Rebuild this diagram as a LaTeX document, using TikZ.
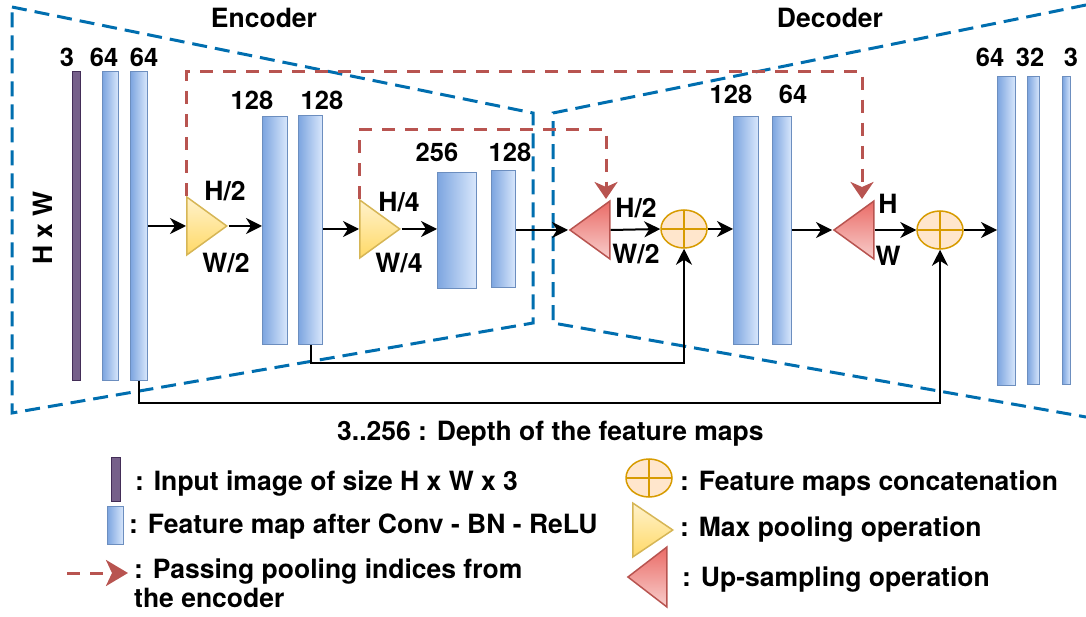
\documentclass[tikz,border=0pt]{standalone}
\usepackage{fontspec}
\setmainfont{TeX Gyre Heros}
\usetikzlibrary{arrows.meta,shapes.geometric}
\definecolor{zoneblue}{HTML}{006EAF}
\definecolor{idxred}{HTML}{B85450}
\definecolor{mapdark}{HTML}{7EA6E0}
\definecolor{maplight}{HTML}{DAE8FC}
\definecolor{mapline}{HTML}{6C8EBF}
\definecolor{inpfill}{HTML}{76608A}
\definecolor{inpline}{HTML}{432D57}
\definecolor{poollight}{HTML}{FFF2CC}
\definecolor{pooldark}{HTML}{FFD966}
\definecolor{poolline}{HTML}{D6B656}
\definecolor{updark}{HTML}{EA6B66}
\definecolor{uplight}{HTML}{F8CECC}
\definecolor{catfill}{HTML}{FFE6CC}
\definecolor{catline}{HTML}{D79B00}
\begin{document}
\begin{tikzpicture}[x=1pt,y=-1pt,
  font=\fontsize{26.5}{29}\selectfont\bfseries,
  fmap/.style={draw=mapline,line width=1.3pt,left color=mapdark,right color=maplight,inner sep=0pt,anchor=north west},
  inimg/.style={draw=inpline,line width=1.3pt,fill=inpfill,inner sep=0pt,anchor=north west},
  pool/.style={isosceles triangle,isosceles triangle stretches,draw=poolline,line width=1.5pt,top color=poollight,bottom color=pooldark,inner sep=0pt,minimum height=40pt,minimum width=58pt,anchor=west},
  upsmp/.style={pool,shape border rotate=180,draw=idxred,top color=updark,bottom color=uplight},
  concat/.style={ellipse,draw=catline,line width=1.5pt,fill=catfill,minimum width=46pt,minimum height=38pt,inner sep=0pt,
    path picture={\draw[catline,line width=1.5pt] (path picture bounding box.north) -- (path picture bounding box.south)
      (path picture bounding box.west) -- (path picture bounding box.east);}},
  arr/.style={-{Stealth[length=16pt,width=16pt,inset=5pt]},line width=2pt},
  idx/.style={-{Stealth[length=17pt,width=23pt,inset=5pt]},idxred,line width=3pt,dash pattern=on 13pt off 10pt},
  zone/.style={zoneblue,line width=3pt,dash pattern=on 15pt off 8pt},
  depth/.style={font=\fontsize{25.5}{29}\selectfont\bfseries},
  note/.style={anchor=base west,inner sep=0pt}]
  \useasboundingbox (0,0) rectangle (1086,617);
  \draw[zone] (12,7) -- (533,113) -- (533,323) -- (12,413) -- cycle;
  \draw[zone] (1086,5) -- (553,113) -- (553,323) -- (1086,417);
  \node (enc) at (264,18) {Encoder};
  \node (dec) at (830,18) {Decoder};
  \node[rotate=90] (hw) at (43,228) {H x W};
  \node[inimg,minimum width=8pt,minimum height=309pt] (in) at (72,71) {};
  \foreach \n/\xa/\xb/\ya/\yb in {e1/102/118/71/380,e2/130/147/71/380,e3/262/287/116/344,e4/298/322/115/344,
    e5/437/476/172/288,e6/491/515/170/287,d1/733/758/116/344,d2/772/791/116/344,
    d3/997/1015/76/385,d4/1027/1039/76/384,d5/1062/1070/76/384}{
    \node[fmap,minimum width=(\xb-\xa)*1pt,minimum height=(\yb-\ya)*1pt] (\n) at (\xa,\ya) {};
  }
  \foreach \lab/\x/\y [count=\i] in {3/67/57,64/104/57,64/144/57,128/252/100,128/322/100,256/437/152,
    128/510/152,128/731/94,64/793/94,64/990/57,32/1030/57,3/1071/57}{
    \node[depth] (num\i) at (\x,\y) {\lab};
  }
  \node[pool] (pool1) at (186,226) {};
  \node[pool] (pool2) at (359,229) {};
  \node[upsmp] (up1) at (568,230) {};
  \node[upsmp] (up2) at (832,230) {};
  \node[concat] (cat1) at (684,229) {};
  \node[concat] (cat2) at (940,230) {};
  \node (h1) at (225,191) {H/2};
  \node (w1) at (226,263) {W/2};
  \node (h2) at (399,202) {H/4};
  \node (w2) at (399,263) {W/4};
  \node (h3) at (636,208) {H/2};
  \node (w3) at (636,254) {W/2};
  \node (h4) at (888,204) {H};
  \node (w4) at (888,256) {W};
  \draw[arr] (e2.east |- pool1.west) -- (pool1.west);
  \draw[arr] (pool1.east) -- (pool1.east -| e3.west);
  \draw[arr] (e4.east |- pool2.west) -- (pool2.west);
  \draw[arr] (pool2.east) -- (pool2.east -| e5.west);
  \draw[arr] (e6.east |- up1.west) -- (up1.west);
  \draw[arr] (up1.east) -- (cat1.west);
  \draw[arr] (cat1.east) -- (cat1.east -| d1.west);
  \draw[arr] (d2.east |- up2.west) -- (up2.west);
  \draw[arr] (up2.east) -- (cat2.west);
  \draw[arr] (cat2.east) -- (cat2.east -| d3.west);
  \draw[arr] (e4.south) -- ++(0,18) -| (cat1.south);
  \draw[arr] (e2.south) -- ++(0,22) -| (cat2.south);
  \coordinate (tip1) at (606,199);
  \coordinate (tip2) at (862,199);
  \draw[idx] (pool2.left corner) -- ++(0,-69) -| (tip1);
  \draw[idx] (pool1.left corner) -- ++(0,-124) -| (tip2);
  \node[note] (t0) at (337,440) {3..256 : Depth of the feature maps};
  \node[inimg,minimum width=9pt,minimum height=44pt] (lgin) at (111,457) {};
  \node[fmap,minimum width=16pt,minimum height=38pt] (lgmap) at (107,506) {};
  \coordinate (lga) at (67,573);
  \coordinate (lgb) at (128,573);
  \draw[idx,-{Stealth[length=22pt,width=26pt,inset=6pt]}] (lga) -- (lgb);
  \node[concat] (lgcat) at (649,478) {};
  \node[pool,minimum width=54pt] (lgpool) at (632,530) {};
  \node[upsmp,minimum height=39pt,minimum width=60pt] (lgup) at (626,577) {};
  \node[note] (t1) at (135,490) {: Input image of size H x W x 3};
  \node[note] (t2) at (129,533) {: Feature map after Conv - BN - ReLU};
  \node[note,align=left] (t3) at (134,607) {: Passing pooling indices from\\the encoder};
  \node[note] (t4) at (680,490) {: Feature maps concatenation};
  \node[note] (t5) at (680,536) {: Max pooling operation};
  \node[note] (t6) at (682,586) {: Up-sampling operation};
\end{tikzpicture}
\end{document}
